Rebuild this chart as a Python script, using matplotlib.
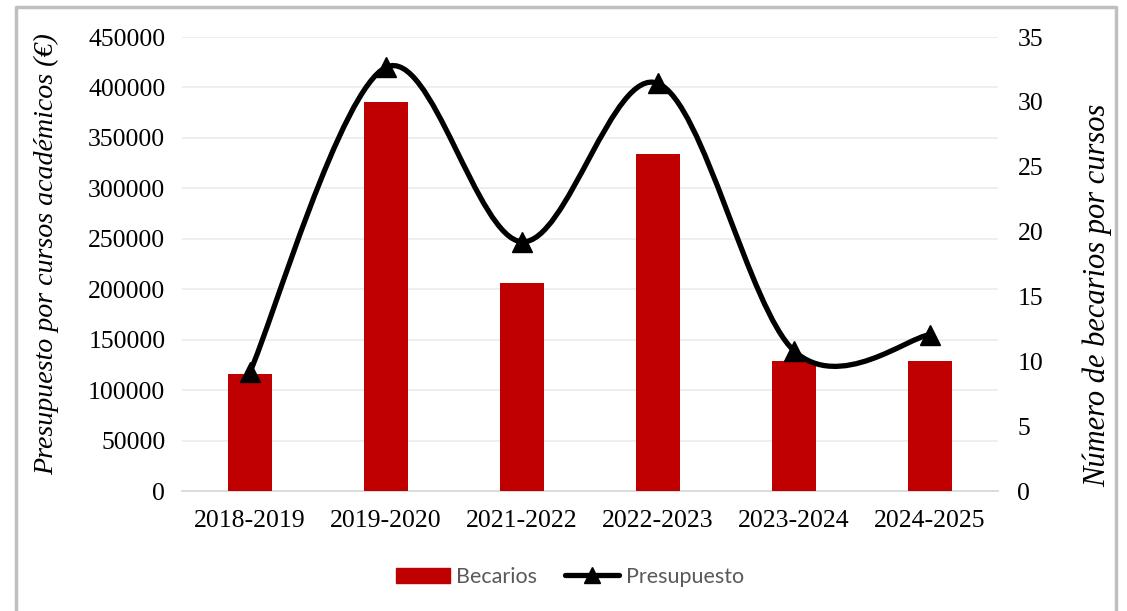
import numpy as np
import matplotlib.pyplot as plt
from matplotlib.path import Path
from matplotlib.patches import PathPatch, Patch
from matplotlib.lines import Line2D

cursos = ["2018-2019", "2019-2020", "2021-2022", "2022-2023", "2023-2024", "2024-2025"]
becarios = [9, 30, 16, 26, 10, 10]
presupuesto = [118000, 420000, 247000, 404000, 139000, 155000]

RED = "#C00000"
GRID = "#EDEDED"
SERIF = "Liberation Serif"


def smooth_path(xs, ys):
    # bezier segments like excel's smoothed line (catmull-rom, 1/6 tension)
    pts = np.column_stack([xs, ys]).astype(float)
    n = len(pts)
    verts = [pts[0]]
    codes = [Path.MOVETO]
    for i in range(n - 1):
        p0 = pts[i - 1] if i > 0 else pts[i]
        p1 = pts[i]
        p2 = pts[i + 1]
        p3 = pts[i + 2] if i + 2 < n else pts[i + 1]
        c1 = p1 + (p2 - p0) / 6.
        c2 = p2 - (p3 - p1) / 6.
        verts += [c1, c2, p2]
        codes += [Path.CURVE4] * 3
    return Path(verts, codes)


fig = plt.figure(figsize=(11.27, 6.11), dpi=100)
ax = fig.add_axes([182 / 1127, 1 - 491 / 611, (998 - 182) / 1127, (491 - 37) / 611])
ax2 = ax.twinx()
ax3 = ax.twinx()

x = np.arange(len(cursos))

# left axis: grid + ticks
ax.set_xlim(-0.5, len(cursos) - 0.5)
ax.set_ylim(0, 450000)
ax.set_yticks(np.arange(0, 450001, 50000))
ax.set_xticks(x)
ax.set_xticklabels(cursos)
ax.yaxis.grid(True, color=GRID, lw=1.3)
ax.set_axisbelow(True)
for s in ax.spines.values():
    s.set_visible(False)
ax.spines["bottom"].set_visible(True)
ax.spines["bottom"].set_color("#D9D9D9")
ax.spines["bottom"].set_linewidth(1.3)
ax.tick_params(length=0, labelsize=18.5, labelfontfamily=SERIF, pad=12)
ax.tick_params(axis="x", pad=14)
ax.set_ylabel("Presupuesto por cursos académicos (€)", fontsize=20.2,
              family=SERIF, style="italic")
ax.yaxis.set_label_coords(59 / 1127, 1 - 254 / 611, transform=fig.transFigure)

# right axis: bars
ax2.set_zorder(ax.get_zorder() + 1)
ax2.patch.set_visible(False)
ax2.bar(x, becarios, width=0.32, color=RED, zorder=2)
ax2.set_ylim(0, 35)
ax2.set_yticks(np.arange(0, 36, 5))
for s in ax2.spines.values():
    s.set_visible(False)
ax2.tick_params(length=0, labelsize=18.5, labelfontfamily=SERIF, pad=14)
ax2.set_ylabel("Número de becarios por cursos", fontsize=22,
               family=SERIF, style="italic")
ax2.yaxis.set_label_coords(1083 / 1127, 1 - 295 / 611, transform=fig.transFigure)

# line on top, same scale as the left axis
ax3.set_zorder(ax2.get_zorder() + 1)
ax3.patch.set_visible(False)
ax3.set_ylim(ax.get_ylim())
ax3.set_yticks([])
for s in ax3.spines.values():
    s.set_visible(False)
ax3.add_patch(PathPatch(smooth_path(x, presupuesto), fill=False, ec="black",
                        lw=3.8, capstyle="round", joinstyle="round"))
ax3.plot(x, presupuesto, ls="none", marker="^", ms=14, color="black")

handles = [Patch(color=RED, label="Becarios"),
           Line2D([], [], color="black", lw=3.8, marker="^", ms=12,
                  solid_capstyle="round", label="Presupuesto")]
fig.legend(handles=handles, loc="center", bbox_to_anchor=(570 / 1127, 1 - 577 / 611),
           ncol=2, frameon=False, handlelength=2.5, handletextpad=0.3,
           columnspacing=1.3, prop={"family": "Lato", "size": 15.5},
           labelcolor="#595959")

# chart border
bc = "#BFBFBF"
l, r, t = 16 / 1127, 1116 / 1127, 1 - 7 / 611
fig.add_artist(Line2D([l, l, r, r], [0, t, t, 0], color=bc, lw=2.5,
                      transform=fig.transFigure))

fig.savefig("out.png", dpi=100)
